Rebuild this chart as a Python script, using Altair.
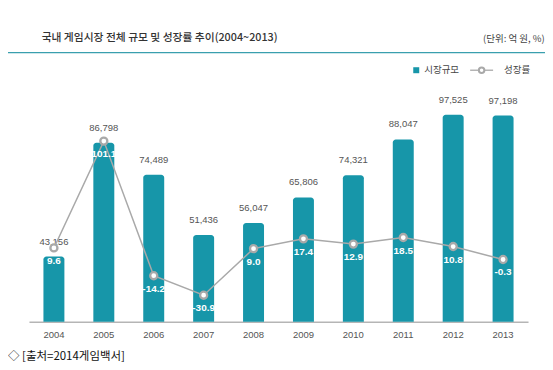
import altair as alt
import pandas as pd

years = ["2004", "2005", "2006", "2007", "2008", "2009", "2010", "2011", "2012", "2013"]
market = [43156, 86798, 74489, 51436, 56047, 65806, 74321, 88047, 97525, 97198]
growth = [9.6, 101.1, -14.2, -30.9, 9.0, 17.4, 12.9, 18.5, 10.8, -0.3]

title_text = "국내 게임시장 전체 규모 및 성장률 추이(2004~2013)"
unit_text = "(단위: 억 원, %)"
legend_bar = "시장규모"
legend_line = "성장률"
source_text = "◇ [출처=2014게임백서]"

TEAL = "#1796a9"
GREY = "#a9a9a9"
FONT = "Noto Sans CJK KR"
NUMFONT = "Liberation Sans"

df = pd.DataFrame({"year": years, "market": market, "growth": growth})
df["glabel"] = [f"{g:.1f}" for g in growth]

xenc = alt.X(
    "year:N",
    sort=years,
    scale=alt.Scale(paddingInner=0.58, paddingOuter=0.29),
    axis=alt.Axis(
        title=None, labelAngle=0, ticks=False, labelPadding=8,
        labelFont=NUMFONT, labelFontSize=9.5, labelColor="#555555",
        domainColor="#b5b5b5", domainWidth=1.5, grid=False,
    ),
)

yb = alt.Y("market:Q", scale=alt.Scale(domain=[18150, 100020], zero=False, nice=False), axis=None)
yl = alt.Y("growth:Q", scale=alt.Scale(domain=[-53.6, 129.3], zero=False, nice=False), axis=None)

base = alt.Chart(df)

bars = base.mark_bar(color=TEAL, cornerRadiusTopLeft=3, cornerRadiusTopRight=3).encode(
    x=xenc, y=yb, y2=alt.datum(18150)
)
bar_text = base.mark_text(
    baseline="middle", dy=-15, font=NUMFONT, fontSize=9.5, color="#555555"
).encode(x=xenc, y=yb, text=alt.Text("market:Q", format=","))

bar_layer = alt.layer(bars, bar_text)

line = base.mark_line(color=GREY, strokeWidth=1.5).encode(x=xenc, y=yl)
pts = base.mark_point(
    filled=True, fill="white", stroke=GREY, strokeWidth=2.3, size=50, opacity=1
).encode(x=xenc, y=yl)
gtext = base.mark_text(
    baseline="middle", dy=13, font=NUMFONT, fontSize=10, fontWeight="bold", color="white"
).encode(x=xenc, y=yl, text="glabel:N")

line_layer = alt.layer(line, pts, gtext)

one = pd.DataFrame({"t": [0]})

def label(txt, x, y, **kw):
    return alt.Chart(pd.DataFrame({"t": [txt]})).mark_text(**kw).encode(
        x=alt.value(x), y=alt.value(y), text="t:N"
    )

title_mark = label(title_text, 12.7, -70.7, align="left", baseline="middle",
                   font=FONT, fontSize=10.8, fontWeight=500, color="#333333")
unit_mark = label(unit_text, 516.7, -69.7, align="right", baseline="middle",
                  font=FONT, fontSize=9.5, color="#444444")
rule_mark = alt.Chart(one).mark_rule(color="#3a9fae", strokeWidth=1.3).encode(
    x=alt.value(-21), x2=alt.value(517), y=alt.value(-55.7)
)
leg_sq = alt.Chart(one).mark_square(color=TEAL, size=36, opacity=1).encode(
    x=alt.value(388), y=alt.value(-38)
)
leg_t1 = label(legend_bar, 396, -38, align="left", baseline="middle",
               font=FONT, fontSize=9.5, color="#444444")
leg_rule = alt.Chart(one).mark_rule(color=GREY, strokeWidth=1.3).encode(
    x=alt.value(442), x2=alt.value(465), y=alt.value(-38)
)
leg_pt = alt.Chart(one).mark_point(
    filled=True, fill="white", stroke=GREY, strokeWidth=2, size=30, opacity=1
).encode(x=alt.value(453.5), y=alt.value(-38))
leg_t2 = label(legend_line, 476, -38, align="left", baseline="middle",
               font=FONT, fontSize=9.5, color="#444444")
src_mark = label(source_text, -21, 249.7, align="left", baseline="middle",
                 font=FONT, fontSize=11.5, color="#111111")

deco = alt.layer(title_mark, unit_mark, rule_mark, leg_sq, leg_t1, leg_rule, leg_pt, leg_t2, src_mark)

chart = alt.layer(bar_layer, line_layer, deco).resolve_scale(y="independent").properties(
    width=500,
    height=214,
    padding={"left": 21, "top": 100, "right": 17, "bottom": 48},
    autosize=alt.AutoSizeParams(type="none"),
).configure_view(strokeWidth=0)

chart.save("out.html", embed_options={"renderer": "svg", "actions": False})
